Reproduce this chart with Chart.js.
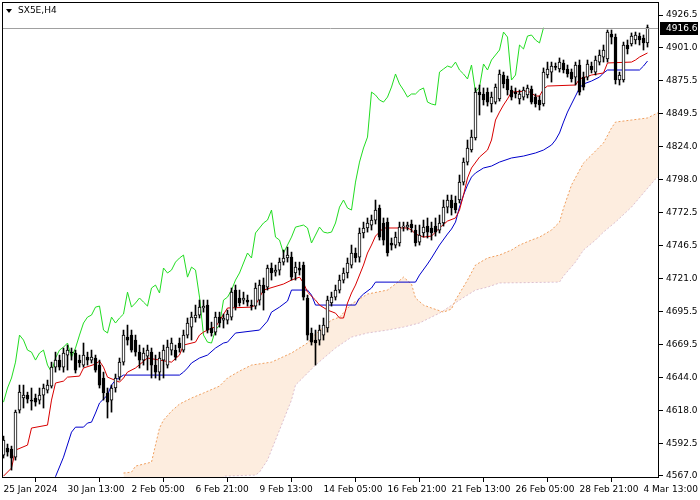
<!DOCTYPE html>
<html>
<head>
<meta charset="utf-8">
<script src="https://cdn.jsdelivr.net/npm/chart.js@4.4.1/dist/chart.umd.min.js"></script>
<style>
html, body { margin: 0; padding: 0; background: #fff; }
</style>
</head>
<body>
<canvas id="grafico" width="700" height="500"></canvas>
<script>
window.onload = inicio;

const simbolo = 'SX5E,H4';

const etiquetasX = ['25 Jan 2024', '30 Jan 13:00', '2 Feb 05:00', '6 Feb 21:00', '9 Feb 13:00', '14 Feb 05:00',
  '16 Feb 21:00', '21 Feb 13:00', '26 Feb 05:00', '28 Feb 21:00', '4 Mar 13:00'];
const barrasEtiquetas = [0, 16, 32, 48, 64, 80, 96, 112, 128, 144, 160];

const ticksY = [4567.0, 4592.5, 4618.0, 4644.0, 4669.5, 4695.5, 4721.0, 4746.5, 4772.5, 4798.0,
  4824.0, 4849.5, 4875.5, 4901.0, 4926.5];

// velas H4 (una por barra)
const aperturas = [
  4583.3, 4588.8, 4588.0, 4581.7, 4618.4, 4627.8, 4630.1, 4626.2, 4627.8, 4626.2,
  4630.1, 4634.0, 4637.1, 4651.9, 4657.4, 4651.9, 4661.3, 4663.6, 4662.9, 4657.4,
  4653.5, 4659.7, 4657.4, 4659.0, 4653.5, 4643.4, 4631.7, 4626.2, 4635.6, 4644.1,
  4655.8, 4675.3, 4676.9, 4673.0, 4663.6, 4657.4, 4660.5, 4663.6, 4653.5, 4648.0,
  4657.4, 4653.5, 4665.2, 4665.2, 4670.7, 4665.2, 4676.9, 4683.1, 4690.2, 4692.5,
  4698.0, 4700.3, 4682.4, 4679.2, 4690.9, 4688.6, 4688.6, 4690.9, 4712.0, 4705.8,
  4704.2, 4704.2, 4700.3, 4699.5, 4704.2, 4715.9, 4714.3, 4729.2, 4726.0, 4727.6,
  4733.8, 4737.0, 4737.7, 4725.3, 4729.2, 4731.5, 4705.8, 4678.5, 4673.0, 4673.0,
  4676.9, 4682.4, 4701.9, 4706.5, 4712.0, 4719.8, 4725.3, 4731.5, 4740.9, 4737.7,
  4756.5, 4760.4, 4762.7, 4766.6, 4776.0, 4764.3, 4765.0, 4748.7, 4747.1, 4748.7,
  4761.1, 4761.1, 4763.5, 4758.8, 4749.4, 4756.5, 4761.9, 4760.4, 4761.9, 4758.8,
  4764.3, 4776.7, 4782.2, 4779.9, 4782.2, 4796.2, 4811.8, 4821.2, 4830.6, 4866.4,
  4864.9, 4866.4, 4857.1, 4858.6, 4861.0, 4879.7, 4876.6, 4868.0, 4866.4, 4861.0,
  4862.5, 4864.1, 4868.8, 4862.5, 4860.2, 4857.1, 4879.7, 4882.0, 4885.9, 4884.4,
  4889.1, 4884.4, 4882.0, 4878.1, 4887.5, 4878.1, 4878.1, 4886.7, 4882.0, 4889.8,
  4893.7, 4892.2, 4911.7, 4909.3, 4875.8, 4875.8, 4903.1, 4903.9, 4907.0, 4910.1,
  4908.6, 4904.7
];
const maximos = [
  4598.1, 4591.9, 4590.3, 4618.4, 4637.9, 4637.9, 4632.4, 4635.6, 4630.9, 4635.6,
  4638.7, 4641.8, 4655.8, 4663.6, 4661.3, 4666.8, 4669.1, 4666.8, 4665.2, 4661.3,
  4670.7, 4663.6, 4665.2, 4661.3, 4657.4, 4648.0, 4635.6, 4637.9, 4646.5, 4659.0,
  4680.8, 4684.7, 4680.8, 4676.9, 4669.1, 4666.8, 4669.1, 4666.8, 4661.3, 4663.6,
  4669.1, 4673.0, 4674.6, 4669.1, 4674.6, 4680.8, 4690.2, 4694.8, 4700.3, 4704.2,
  4704.2, 4704.2, 4687.0, 4694.8, 4694.8, 4693.3, 4696.4, 4713.6, 4715.9, 4712.0,
  4710.4, 4708.1, 4704.2, 4717.5, 4719.8, 4721.4, 4731.5, 4733.1, 4731.5, 4737.0,
  4743.2, 4745.5, 4741.6, 4733.8, 4733.8, 4733.8, 4708.1, 4682.4, 4680.8, 4684.7,
  4690.2, 4707.3, 4710.4, 4715.9, 4723.7, 4729.2, 4737.0, 4747.1, 4744.8, 4760.4,
  4765.0, 4768.2, 4770.5, 4782.2, 4778.3, 4768.2, 4768.2, 4752.6, 4757.2, 4765.0,
  4765.0, 4765.0, 4766.6, 4762.7, 4762.7, 4766.6, 4768.2, 4765.0, 4768.2, 4770.5,
  4782.2, 4786.1, 4786.1, 4785.3, 4801.7, 4815.0, 4829.0, 4836.8, 4869.6, 4871.9,
  4869.6, 4869.6, 4866.4, 4872.7, 4883.6, 4882.0, 4878.9, 4871.1, 4869.6, 4868.0,
  4870.3, 4871.9, 4871.1, 4864.9, 4863.3, 4885.2, 4889.8, 4889.8, 4889.1, 4893.0,
  4891.4, 4887.5, 4884.4, 4889.8, 4891.4, 4882.0, 4891.4, 4889.8, 4894.5, 4899.2,
  4903.1, 4914.8, 4914.8, 4911.7, 4882.0, 4905.4, 4907.0, 4912.5, 4913.2, 4912.5,
  4910.9, 4918.7
];
const minimos = [
  4581.0, 4582.5, 4571.6, 4579.4, 4616.1, 4620.0, 4623.9, 4618.4, 4621.5, 4623.1,
  4620.0, 4631.7, 4635.6, 4648.0, 4649.6, 4648.0, 4649.6, 4657.4, 4647.3, 4651.9,
  4651.9, 4653.5, 4655.1, 4648.0, 4635.6, 4626.2, 4612.2, 4616.8, 4632.4, 4641.8,
  4653.5, 4669.1, 4663.6, 4660.5, 4651.2, 4653.5, 4649.6, 4643.4, 4643.4, 4641.8,
  4643.4, 4651.2, 4661.3, 4657.4, 4663.6, 4663.6, 4674.6, 4673.0, 4687.0, 4690.2,
  4694.8, 4678.5, 4676.1, 4676.9, 4683.1, 4682.4, 4685.5, 4688.6, 4696.4, 4699.5,
  4701.1, 4699.5, 4696.4, 4697.2, 4700.3, 4696.4, 4712.0, 4719.8, 4722.9, 4723.7,
  4731.5, 4733.8, 4719.8, 4719.8, 4723.7, 4704.2, 4673.0, 4669.1, 4653.5, 4669.1,
  4673.0, 4679.2, 4699.5, 4704.2, 4709.7, 4717.5, 4721.4, 4729.2, 4733.8, 4733.8,
  4752.6, 4757.2, 4758.8, 4763.5, 4751.0, 4747.1, 4738.5, 4743.2, 4744.8, 4746.3,
  4758.0, 4758.8, 4757.2, 4746.3, 4747.1, 4753.3, 4752.6, 4751.0, 4754.1, 4756.5,
  4761.9, 4772.1, 4770.5, 4772.1, 4779.9, 4793.9, 4809.5, 4819.6, 4829.0, 4848.5,
  4856.3, 4855.5, 4850.8, 4857.1, 4859.4, 4869.6, 4864.1, 4860.2, 4861.8, 4857.1,
  4860.2, 4861.8, 4857.1, 4854.7, 4852.4, 4855.5, 4877.4, 4874.2, 4883.6, 4882.0,
  4881.3, 4878.1, 4874.2, 4871.9, 4864.1, 4868.0, 4875.8, 4881.3, 4879.7, 4887.5,
  4889.8, 4889.8, 4903.9, 4872.7, 4871.9, 4874.2, 4896.1, 4902.3, 4903.9, 4903.1,
  4899.2, 4901.5
];
const cierres = [
  4595.0, 4585.6, 4581.0, 4616.8, 4632.4, 4630.1, 4627.0, 4625.4, 4624.6, 4630.1,
  4635.6, 4637.9, 4651.9, 4657.4, 4651.9, 4662.9, 4665.2, 4662.9, 4649.6, 4655.1,
  4661.3, 4657.4, 4659.7, 4649.6, 4637.9, 4631.7, 4624.6, 4635.6, 4643.4, 4655.8,
  4676.9, 4673.0, 4665.2, 4663.6, 4657.4, 4662.9, 4665.2, 4653.5, 4648.0, 4659.0,
  4665.2, 4667.5, 4670.7, 4659.7, 4666.8, 4676.9, 4686.3, 4690.9, 4692.5, 4698.7,
  4699.5, 4680.8, 4678.5, 4690.9, 4686.3, 4690.2, 4693.3, 4710.4, 4698.7, 4701.9,
  4705.8, 4702.6, 4699.5, 4713.6, 4715.9, 4709.7, 4729.2, 4725.3, 4727.6, 4733.8,
  4737.0, 4739.3, 4722.1, 4729.9, 4727.6, 4706.5, 4676.9, 4671.4, 4670.7, 4680.8,
  4684.7, 4704.2, 4706.5, 4712.0, 4719.8, 4725.3, 4733.1, 4740.9, 4737.0, 4756.5,
  4760.4, 4764.3, 4766.6, 4774.4, 4753.3, 4751.0, 4740.9, 4747.1, 4753.3, 4761.1,
  4761.9, 4762.7, 4760.4, 4748.7, 4754.9, 4761.1, 4757.2, 4756.5, 4757.2, 4764.3,
  4776.7, 4782.2, 4776.0, 4774.4, 4796.2, 4811.8, 4822.8, 4831.3, 4866.4, 4864.1,
  4860.2, 4858.6, 4862.5, 4870.3, 4880.5, 4872.7, 4868.0, 4862.5, 4864.9, 4864.9,
  4868.0, 4869.6, 4858.6, 4857.1, 4856.3, 4882.0, 4884.4, 4886.7, 4885.6, 4889.8,
  4883.6, 4880.5, 4876.6, 4887.5, 4866.4, 4870.3, 4888.3, 4883.6, 4891.4, 4895.3,
  4899.2, 4913.2, 4909.3, 4875.8, 4879.7, 4903.1, 4900.0, 4910.1, 4910.9, 4907.0,
  4904.7, 4916.6
];

// Ichimoku: [barra, precio]
const tenkan = [
  [0, 4566.9], [2, 4573.2], [3, 4587.2], [6, 4591.1], [7, 4604.4], [11, 4606.7], [12, 4626.2], [13, 4639.5],
  [15, 4641.0], [16, 4644.1], [19, 4644.9], [20, 4651.2], [23, 4654.3], [24, 4656.6], [25, 4651.9], [26, 4644.1],
  [29, 4640.2], [30, 4643.4], [31, 4648.0], [33, 4651.2], [36, 4659.0], [42, 4655.8], [44, 4661.3], [45, 4669.1],
  [48, 4671.4], [49, 4676.9], [50, 4679.2], [52, 4682.4], [53, 4683.1], [56, 4698.0], [62, 4698.7], [63, 4700.3],
  [65, 4712.0], [70, 4716.7], [72, 4719.8], [74, 4722.1], [75, 4717.5], [76, 4710.4], [78, 4704.2], [79, 4700.3],
  [81, 4696.4], [83, 4694.0], [84, 4690.2], [85, 4690.2], [86, 4701.9], [87, 4709.7], [88, 4715.9], [90, 4731.5],
  [91, 4740.9], [92, 4747.1], [93, 4754.1], [95, 4760.4], [101, 4760.4], [102, 4758.8], [103, 4755.7], [105, 4753.3],
  [107, 4754.1], [109, 4760.4], [111, 4765.8], [113, 4768.2], [114, 4774.4], [115, 4786.1], [116, 4799.4], [117, 4807.2],
  [119, 4815.7], [121, 4821.2], [122, 4829.0], [123, 4844.6], [124, 4850.8], [125, 4856.3], [126, 4861.0], [127, 4866.4],
  [131, 4867.2], [132, 4865.7], [133, 4863.3], [134, 4863.3], [135, 4868.8], [136, 4871.1], [143, 4871.9], [144, 4876.6],
  [147, 4879.7], [150, 4881.3], [151, 4889.1], [157, 4889.8], [158, 4891.4], [159, 4893.7], [161, 4896.9]
];
const kijun = [
  [12, 4561.0], [13, 4566.5], [15, 4581.7], [17, 4601.2], [18, 4605.1], [20, 4605.1], [21, 4608.3], [22, 4609.0],
  [23, 4616.1], [24, 4623.9], [26, 4630.1], [27, 4637.9], [28, 4641.8], [30, 4645.7], [44, 4645.7], [45, 4648.0],
  [46, 4651.2], [47, 4655.1], [49, 4659.0], [51, 4661.3], [53, 4666.8], [55, 4670.7], [56, 4671.4], [58, 4678.5],
  [64, 4680.8], [66, 4687.8], [67, 4694.8], [69, 4698.7], [71, 4703.4], [72, 4712.0], [76, 4712.0], [77, 4708.1],
  [78, 4700.3], [88, 4700.3], [89, 4705.8], [90, 4708.9], [92, 4713.6], [93, 4718.2], [103, 4718.2], [104, 4723.7],
  [106, 4732.3], [107, 4737.0], [109, 4747.1], [111, 4755.7], [112, 4759.6], [113, 4765.0], [114, 4776.7], [115, 4786.1],
  [116, 4793.9], [117, 4800.1], [118, 4803.3], [120, 4807.2], [122, 4808.7], [124, 4811.8], [127, 4815.0], [130, 4816.5],
  [133, 4818.9], [135, 4821.2], [137, 4825.1], [138, 4829.0], [139, 4834.5], [140, 4843.0], [141, 4850.8], [142, 4857.1],
  [143, 4863.3], [144, 4869.6], [145, 4872.7], [147, 4875.0], [149, 4878.1], [150, 4881.3], [151, 4883.6], [159, 4883.6],
  [160, 4886.7], [161, 4890.6]
];
const senkouA = [
  [30, 4569.3], [32, 4570.0], [33, 4574.7], [34, 4575.5], [37, 4577.8], [38, 4591.1], [39, 4604.4], [40, 4610.6],
  [42, 4617.6], [44, 4623.1], [47, 4627.8], [50, 4631.7], [54, 4637.1], [56, 4643.4], [59, 4648.8], [62, 4653.5],
  [67, 4655.8], [72, 4662.9], [76, 4670.7], [78, 4677.7], [82, 4688.6], [84, 4690.9], [87, 4701.1], [91, 4708.9],
  [96, 4712.0], [98, 4716.7], [100, 4722.1], [102, 4716.7], [103, 4705.8], [105, 4700.3], [107, 4698.0], [110, 4694.8],
  [112, 4697.2], [113, 4704.2], [116, 4719.8], [118, 4731.5], [121, 4737.0], [124, 4739.3], [127, 4743.2], [129, 4747.1],
  [132, 4751.0], [134, 4753.3], [137, 4758.8], [139, 4765.0], [140, 4775.9], [142, 4793.9], [145, 4811.1], [147, 4817.3],
  [150, 4826.7], [152, 4838.4], [153, 4843.0], [157, 4844.6], [161, 4846.2], [163, 4849.3], [164, 4850.8]
];
const senkouB = [
  [30, 4552.1], [54, 4556.0], [55, 4566.9], [63, 4567.7], [64, 4570.0], [66, 4579.4], [67, 4587.2], [68, 4595.0],
  [70, 4610.6], [72, 4626.2], [73, 4637.9], [75, 4644.1], [78, 4653.5], [83, 4666.8], [87, 4675.3], [91, 4678.5],
  [96, 4680.8], [100, 4683.1], [104, 4686.3], [107, 4690.9], [109, 4694.0], [114, 4704.2], [118, 4712.0], [121, 4714.3],
  [124, 4717.5], [139, 4718.2], [140, 4722.9], [143, 4733.8], [145, 4743.2], [148, 4751.0], [150, 4757.2], [153, 4765.0],
  [157, 4776.7], [160, 4787.7], [163, 4798.6], [164, 4800.9]
];
// chikou span, desde la barra 0
const chikou = [
  4624.6, 4635.6, 4643.4, 4655.8, 4676.9, 4673.0, 4665.2, 4663.6, 4657.4, 4662.9,
  4665.2, 4653.5, 4648.0, 4659.0, 4665.2, 4667.5, 4670.7, 4659.7, 4666.8, 4676.9,
  4686.3, 4690.9, 4692.5, 4698.7, 4699.5, 4680.8, 4678.5, 4690.9, 4686.3, 4690.2,
  4693.3, 4710.4, 4698.7, 4701.9, 4705.8, 4702.6, 4699.5, 4713.6, 4715.9, 4709.7,
  4729.2, 4725.3, 4727.6, 4733.8, 4737.0, 4739.3, 4722.1, 4729.9, 4727.6, 4706.5,
  4676.9, 4671.4, 4670.7, 4680.8, 4684.7, 4704.2, 4706.5, 4712.0, 4719.8, 4725.3,
  4733.1, 4740.9, 4737.0, 4756.5, 4760.4, 4764.3, 4766.6, 4774.4, 4753.3, 4751.0,
  4740.9, 4747.1, 4753.3, 4761.1, 4761.9, 4762.7, 4760.4, 4748.7, 4754.9, 4761.1,
  4757.2, 4756.5, 4757.2, 4764.3, 4776.7, 4782.2, 4776.0, 4774.4, 4796.2, 4811.8,
  4822.8, 4831.3, 4866.4, 4864.1, 4860.2, 4858.6, 4862.5, 4870.3, 4880.5, 4872.7,
  4868.0, 4862.5, 4864.9, 4864.9, 4868.0, 4869.6, 4858.6, 4857.1, 4856.3, 4882.0,
  4884.4, 4886.7, 4885.6, 4889.8, 4883.6, 4880.5, 4876.6, 4887.5, 4866.4, 4870.3,
  4888.3, 4883.6, 4891.4, 4895.3, 4899.2, 4913.2, 4909.3, 4875.8, 4879.7, 4903.1,
  4900.0, 4910.1, 4910.9, 4907.0, 4904.7, 4916.6
];

function puntos(pares) {
  return pares.map(p => ({ x: p[0], y: p[1] }));
}

const marcoMT4 = {
  id: 'marcoMT4',
  beforeDraw(chart) {
    const ctx = chart.ctx;
    ctx.save();
    ctx.fillStyle = '#ffffff';
    ctx.fillRect(0, 0, chart.width, chart.height);
    ctx.restore();
  },
  afterDatasetsDraw(chart) {
    const ctx = chart.ctx;
    const a = chart.chartArea;
    const py = Math.round(chart.scales.y.getPixelForValue(cierres[cierres.length - 1])) + 0.5;
    ctx.save();
    ctx.strokeStyle = '#a0a0a0';
    ctx.lineWidth = 1;
    ctx.beginPath();
    ctx.moveTo(a.left, py);
    ctx.lineTo(a.right, py);
    ctx.stroke();
    ctx.restore();
  },
  afterDraw(chart) {
    const ctx = chart.ctx;
    const a = chart.chartArea;
    const ultimo = cierres[cierres.length - 1];
    const py = Math.round(chart.scales.y.getPixelForValue(ultimo));
    ctx.save();
    ctx.strokeStyle = '#000000';
    ctx.lineWidth = 1;
    ctx.strokeRect(a.left + 0.5, a.top + 0.5, a.right - a.left - 1, a.bottom - a.top - 1);

    // titulo
    ctx.fillStyle = '#000000';
    ctx.beginPath();
    ctx.moveTo(6, 9);
    ctx.lineTo(12, 9);
    ctx.lineTo(9, 13);
    ctx.closePath();
    ctx.fill();
    ctx.font = '9px "DejaVu Sans"';
    ctx.textBaseline = 'middle';
    ctx.textAlign = 'left';
    ctx.fillText(simbolo, 18, 11);

    // etiqueta del precio actual
    ctx.fillStyle = '#000000';
    ctx.fillRect(a.right + 1, py - 6, 38, 13);
    ctx.fillStyle = '#ffffff';
    ctx.fillText(ultimo.toFixed(1), a.right + 7, py + 0.5);
    ctx.restore();
  }
};

function inicio() {
  const lienzo = document.getElementById('grafico');
  Chart.defaults.font.family = '"DejaVu Sans", sans-serif';
  Chart.defaults.font.size = 9;
  Chart.defaults.color = '#000000';

  const mechas = maximos.map((h, i) => ({ x: i, y: [minimos[i], h] }));
  const cuerpos = aperturas.map((o, i) => ({ x: i, y: [o, cierres[i]] }));
  const rellenos = aperturas.map((o, i) => cierres[i] >= o ? '#ffffff' : '#000000');

  new Chart(lienzo, {
    type: 'bar',
    data: {
      datasets: [{
        label: 'cuerpos',
        data: cuerpos,
        backgroundColor: rellenos,
        borderColor: '#000000',
        borderWidth: 1,
        borderSkipped: false,
        barThickness: 3,
        minBarLength: 1,
        grouped: false,
        order: 0
      },
      {
        label: 'mechas',
        data: mechas,
        backgroundColor: '#000000',
        borderWidth: 0,
        barThickness: 1,
        grouped: false,
        order: 1
      },
      {
        type: 'line',
        label: 'Tenkan-sen',
        data: puntos(tenkan),
        borderColor: '#d80000',
        borderWidth: 1,
        pointRadius: 0,
        order: 2
      },
      {
        type: 'line',
        label: 'Kijun-sen',
        data: puntos(kijun),
        borderColor: '#0000cc',
        borderWidth: 1,
        pointRadius: 0,
        order: 2
      },
      {
        type: 'line',
        label: 'Chikou Span',
        data: chikou.map((v, i) => ({ x: i, y: v })),
        borderColor: '#22dd22',
        borderWidth: 1,
        pointRadius: 0,
        order: 2
      },
      {
        type: 'line',
        label: 'Senkou Span A',
        data: puntos(senkouA),
        borderColor: '#f0a060',
        borderWidth: 1,
        borderDash: [2, 2],
        backgroundColor: 'rgba(244, 164, 96, 0.2)',
        fill: '+1',
        pointRadius: 0,
        order: 3
      },
      {
        type: 'line',
        label: 'Senkou Span B',
        data: puntos(senkouB),
        borderColor: '#dcc4dc',
        borderWidth: 1,
        borderDash: [2, 2],
        pointRadius: 0,
        order: 3
      }]
    },
    options: {
      responsive: false,
      animation: false,
      events: [],
      layout: { padding: { left: 2, top: 2, right: 0, bottom: 0 } },
      plugins: {
        legend: { display: false },
        tooltip: { enabled: false }
      },
      scales: {
        x: {
          type: 'linear',
          min: -0.375,
          max: 163.875,
          offset: false,
          afterBuildTicks: s => { s.ticks = barrasEtiquetas.map(v => ({ value: v })); },
          afterFit: s => { s.height = 22; s.paddingLeft = 0; s.paddingRight = 0; },
          grid: { drawOnChartArea: false, drawTicks: true, tickLength: 4, color: '#000000' },
          border: { display: false },
          ticks: {
            autoSkip: false,
            maxRotation: 0,
            minRotation: 0,
            align: 'start',
            padding: 2,
            callback: (v, i) => etiquetasX[i]
          }
        },
        y: {
          type: 'linear',
          position: 'right',
          min: 4565.44,
          max: 4936.64,
          afterBuildTicks: s => { s.ticks = ticksY.map(v => ({ value: v })); },
          afterFit: s => { s.width = 41; s.paddingTop = 0; s.paddingBottom = 0; },
          grid: { drawOnChartArea: false, drawTicks: true, tickLength: 4, color: '#000000' },
          border: { display: false },
          ticks: {
            padding: 3,
            callback: v => v.toFixed(1)
          }
        }
      }
    },
    plugins: [marcoMT4]
  });
}
</script>
</body>
</html>
